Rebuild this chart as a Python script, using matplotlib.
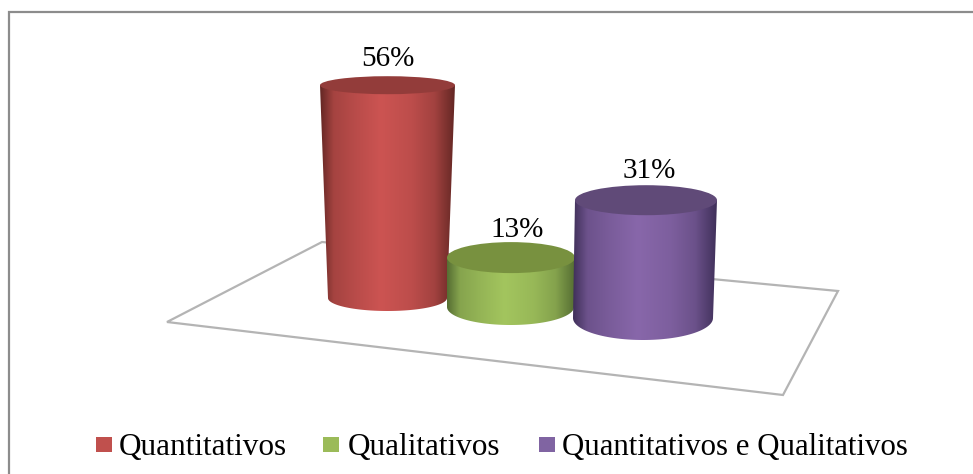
import numpy as np
import matplotlib
matplotlib.use("Agg")
import matplotlib.pyplot as plt
from matplotlib.patches import Polygon, Rectangle, Ellipse
from matplotlib.colors import LinearSegmentedColormap, to_rgb

categories = ["Quantitativos", "Qualitativos", "Quantitativos e Qualitativos"]
values = [56, 13, 31]
value_labels = ["56%", "13%", "31%"]
colors_edge = ["#642724", "#566e33", "#40305a"]
colors_mid = ["#cc5452", "#a3c55e", "#8867aa"]
colors_top = ["#933c3a", "#78913f", "#604a78"]
legend_colors = ["#c0504d", "#9bbb59", "#8064a2"]

W, H = 973, 474
PX_PER_UNIT = 3.8
base_y = [298, 307, 318]
top_x = [(320, 455), (447, 575), (575, 717)]
bot_x = [(328, 447), (447, 574), (573, 713)]
top_ry = [9, 15.5, 15]
bot_ry = [13, 18, 22]
label_x = [388, 517, 649]
label_gap = [10, 5, 7]
floor = [(167, 322), (322, 242), (838, 291), (783, 395)]
swatch_x = [96, 323, 539]
legend_x = [119, 348, 562]
legend_size = [22.5, 22.5, 22.2]

plt.rcParams["font.family"] = ["Liberation Serif", "DejaVu Serif"]
fig = plt.figure(figsize=(W / 100, H / 100), dpi=100)
ax = fig.add_axes([0, 0, 1, 1])
ax.set_xlim(0, W)
ax.set_ylim(H, 0)
ax.axis("off")

# chart frame: only the top and left edges fall inside the picture
ax.plot([8.5, 8.5, W], [H, 12, 12], color="#8c8c8c", lw=1.6, zorder=1,
        solid_joinstyle="miter")

# floor
ax.add_patch(Polygon(floor, closed=True, fill=False, edgecolor="#b4b4b4", lw=1.6, zorder=2))


def mix(a, b, f):
    a, b = np.array(to_rgb(a)), np.array(to_rgb(b))
    return tuple(a + (b - a) * f)


# cylinders
for i, v in enumerate(values):
    cy_b = base_y[i]
    cy_t = cy_b - v * PX_PER_UNIT
    (tl, tr), (bl, br) = top_x[i], bot_x[i]
    tcx = (tl + tr) / 2
    bcx, brx = (bl + br) / 2, (br - bl) / 2
    t = np.linspace(0, np.pi, 80)
    lower = list(zip(bcx + brx * np.cos(t), cy_b + bot_ry[i] * np.sin(t)))
    outline = [(tr, cy_t)] + lower + [(tl, cy_t)]
    e, m = colors_edge[i], colors_mid[i]
    cmap = LinearSegmentedColormap.from_list(
        f"c{i}", [(0, e), (0.1, mix(e, m, 0.62)), (0.25, mix(e, m, 0.8)), (0.45, m),
                  (0.68, mix(e, m, 0.85)), (0.85, mix(e, m, 0.6)), (1, e)])
    im = ax.imshow(np.linspace(0, 1, 256)[None, :], cmap=cmap, aspect="auto",
                   extent=(min(tl, bl), max(tr, br), cy_b + bot_ry[i], cy_t - 1),
                   zorder=3 + i)
    poly = Polygon(outline, closed=True, transform=ax.transData, fc="none", ec="none")
    ax.add_patch(poly)
    im.set_clip_path(poly)
    ax.add_patch(Ellipse((tcx, cy_t), tr - tl, 2 * top_ry[i], fc=colors_top[i], ec="none",
                         zorder=3 + i + 0.5))
    ax.text(label_x[i], cy_t - top_ry[i] - label_gap[i], value_labels[i], ha="center",
            va="baseline", fontsize=21, color="black", zorder=10)
ax.set_xlim(0, W)
ax.set_ylim(H, 0)

# legend
for i, name in enumerate(categories):
    ax.add_patch(Rectangle((swatch_x[i], 437), 16, 15, fc=legend_colors[i], ec="none", zorder=5))
    ax.text(legend_x[i], 455, name, ha="left", va="baseline", fontsize=legend_size[i],
            color="black", zorder=10)

fig.savefig("out.png", dpi=100)
